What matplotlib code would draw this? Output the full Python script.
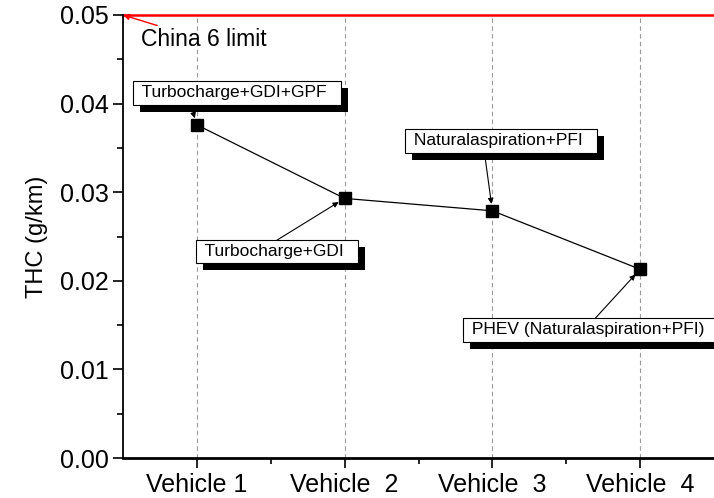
import matplotlib.pyplot as plt
import matplotlib.patheffects as pe
from matplotlib.ticker import MultipleLocator

plt.rcParams['font.family'] = ['Liberation Sans', 'DejaVu Sans']

vehicles = ['Vehicle 1', 'Vehicle  2', 'Vehicle  3', 'Vehicle  4']
thc = [0.0376, 0.0293, 0.0279, 0.0213]
limit = 0.05
labels = ['Turbocharge+GDI+GPF', 'Turbocharge+GDI',
          'Naturalaspiration+PFI', 'PHEV (Naturalaspiration+PFI)']

xs = [1, 2, 3, 4]

fig = plt.figure(figsize=(7.14, 4.98), dpi=100)
ax = fig.add_axes([0.1723, 0.0803, 0.8277, 0.8896])

# dashed guides at each vehicle
for x in xs:
    ax.axvline(x, color='#9a9a9a', lw=0.8, ls=(0, (4, 3)), zorder=0)

ax.axhline(limit, color='red', lw=1.8, zorder=2, clip_on=False)
ax.plot(xs, thc, color='black', lw=0.9, marker='s', markersize=9, zorder=3)

ax.annotate('China 6 limit', xy=(0.5, limit), xytext=(0.62, 0.0472),
            fontsize=16.5, va='center', ha='left',
            arrowprops=dict(arrowstyle='-|>', color='red', lw=1,
                            mutation_scale=9, shrinkA=0, shrinkB=0))

# label boxes with a hard black drop shadow
box_pos = [(1.272, 0.0412, 'center'), (1.540, 0.0233, 'center'),
           (3.058, 0.0358, 'center'), (2.83, 0.01445, 'left')]
arrow_tails = [(0.974, 0.0390), (1.543, 0.0246),
               (2.946, 0.0345), (3.698, 0.0158)]

for i, (lbl, (bx, by, ha)) in enumerate(zip(labels, box_pos)):
    t = ax.text(bx, by, ' ' + lbl + '  ', fontsize=12.5, ha=ha, va='center',
                zorder=5, clip_on=False,
                bbox=dict(boxstyle='square,pad=0.25', fc='white',
                          ec='black', lw=0.8))
    t.get_bbox_patch().set_path_effects([
        pe.SimplePatchShadow(offset=(5, -5), shadow_rgbFace='black', alpha=1),
        pe.Normal()])
    ax.annotate('', xy=(xs[i], thc[i]), xytext=arrow_tails[i], zorder=4,
                arrowprops=dict(arrowstyle='-|>', color='black', lw=0.8,
                                mutation_scale=8, shrinkA=0, shrinkB=5))

ax.set_xlim(0.5, 4.5)
ax.set_ylim(0, 0.05)
ax.set_xticks(xs)
ax.set_xticklabels(vehicles)
ax.set_xticks([1.5, 2.5, 3.5], minor=True)
ax.yaxis.set_major_locator(MultipleLocator(0.01))
ax.yaxis.set_minor_locator(MultipleLocator(0.005))
ax.yaxis.set_major_formatter(plt.FormatStrFormatter('%.2f'))

ax.tick_params(axis='both', which='major', direction='out', length=7,
               width=1.2, labelsize=18, colors='black')
ax.tick_params(axis='both', which='minor', direction='out', length=4,
               width=1.2)
ax.tick_params(axis='x', which='major', pad=4)

ax.spines['top'].set_visible(False)
ax.spines['right'].set_visible(False)
ax.spines['left'].set_linewidth(1.3)
ax.spines['bottom'].set_linewidth(2)

ax.set_ylabel('THC (g/km)', fontsize=17, labelpad=8)

fig.savefig('out.png', dpi=100)
